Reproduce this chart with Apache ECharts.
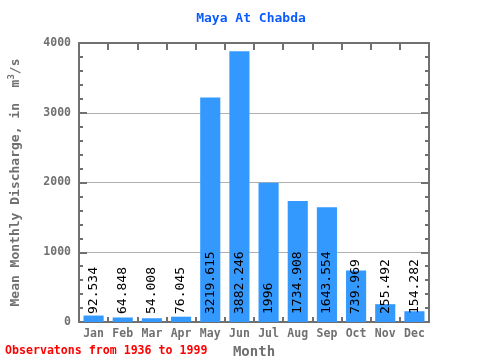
<!DOCTYPE html>
<html><head><meta charset="utf-8">
<script src="https://cdn.jsdelivr.net/npm/echarts@6/dist/echarts.min.js"></script>
<style>html,body{margin:0;padding:0;background:#fff}#c{width:480px;height:360px}</style>
</head><body><div id="c"></div>
<script>
const months = ["Jan","Feb","Mar","Apr","May","Jun","Jul","Aug","Sep","Oct","Nov","Dec"];
const discharge = [92.534, 64.848, 54.008, 76.045, 3219.615, 3882.246, 1996, 1734.908, 1643.554, 739.969, 255.492, 154.282];
const labels = ["92.534","64.848","54.008","76.045","3219.615","3882.246","1996","1734.908","1643.554","739.969","255.492","154.282"];

const mono = "DejaVu Sans Mono";
const axisGray = "#707070";
const chart = echarts.init(document.getElementById('c'), null, {renderer: 'canvas'});
chart.setOption({
  animation: false,
  backgroundColor: '#fff',
  title: {
    text: 'Maya At Chabda', left: 246, top: 7, textAlign: 'center',
    textStyle: {color: '#0a5cff', fontFamily: mono, fontWeight: 'bold', fontSize: 13}
  },
  graphic: [{
    type: 'text', left: 5, top: 345,
    style: {text: 'Observatons from 1936 to 1999', fill: '#ff0000', font: 'bold 11.6px "DejaVu Sans Mono"'}
  }],
  grid: {left: 79, top: 43, width: 350, height: 279, containLabel: false, outerBoundsMode: 'none'},
  xAxis: [{
    type: 'category', data: months, position: 'bottom',
    name: 'Month', nameLocation: 'middle', nameGap: 18,
    nameTextStyle: {color: axisGray, fontFamily: mono, fontWeight: 'bold', fontSize: 14},
    axisLine: {onZero: false, lineStyle: {color: axisGray, width: 2}},
    axisTick: {show: true, inside: true, length: 5, interval: 0, lineStyle: {color: axisGray, width: 2}},
    axisLabel: {color: axisGray, fontFamily: mono, fontWeight: 'bold', fontSize: 11.5, margin: 6, interval: 0}
  }, {
    type: 'category', data: months, position: 'top',
    axisLine: {onZero: false, lineStyle: {color: axisGray, width: 2}},
    axisTick: {show: true, inside: true, length: 7, interval: 0, lineStyle: {color: axisGray, width: 2}},
    axisLabel: {show: false, interval: 0}
  }],
  yAxis: [{
    type: 'value', min: 0, max: 4000, interval: 1000, position: 'left',
    name: 'Mean Monthly Discharge, in  m{sup|3}/s', nameLocation: 'middle', nameGap: 55,
    nameTextStyle: {color: axisGray, fontFamily: mono, fontWeight: 'bold', fontSize: 13,
      rich: {sup: {fontSize: 9, verticalAlign: 'bottom', color: axisGray, fontFamily: mono, fontWeight: 'bold', padding: [0,0,8,0]}}},
    axisLine: {show: true, onZero: false, lineStyle: {color: axisGray, width: 2}},
    axisTick: {show: true, inside: true, length: 8, lineStyle: {color: axisGray, width: 2}},
    splitLine: {show: true, lineStyle: {color: '#b0b0b0', width: 1}},
    axisLabel: {color: axisGray, fontFamily: mono, fontWeight: 'bold', fontSize: 11.5, margin: 8, formatter: v => String(v)}
  }, {
    type: 'value', min: 0, max: 4000, interval: 1000, position: 'right',
    axisLine: {show: true, onZero: false, lineStyle: {color: axisGray, width: 2}},
    axisTick: {show: true, inside: true, length: 8, lineStyle: {color: axisGray, width: 2}},
    splitLine: {show: false}, axisLabel: {show: false}
  }, {
    type: 'value', min: 0, max: 4000, interval: 200, position: 'left',
    axisLine: {show: false, onZero: false}, axisTick: {show: true, inside: true, length: 4, lineStyle: {color: axisGray, width: 2}},
    splitLine: {show: false}, axisLabel: {show: false}
  }, {
    type: 'value', min: 0, max: 4000, interval: 200, position: 'right',
    axisLine: {show: false, onZero: false}, axisTick: {show: true, inside: true, length: 4, lineStyle: {color: axisGray, width: 2}},
    splitLine: {show: false}, axisLabel: {show: false}
  }],
  series: [{
    type: 'bar', data: discharge, xAxisIndex: 0, yAxisIndex: 0,
    barCategoryGap: '31%',
    itemStyle: {color: '#3399ff'},
    label: {
      show: true, position: 'insideBottom', rotate: 90, align: 'left', verticalAlign: 'middle',
      distance: 8, color: '#000', fontFamily: mono, fontSize: 13,
      formatter: p => labels[p.dataIndex]
    }
  }]
});
</script></body></html>
